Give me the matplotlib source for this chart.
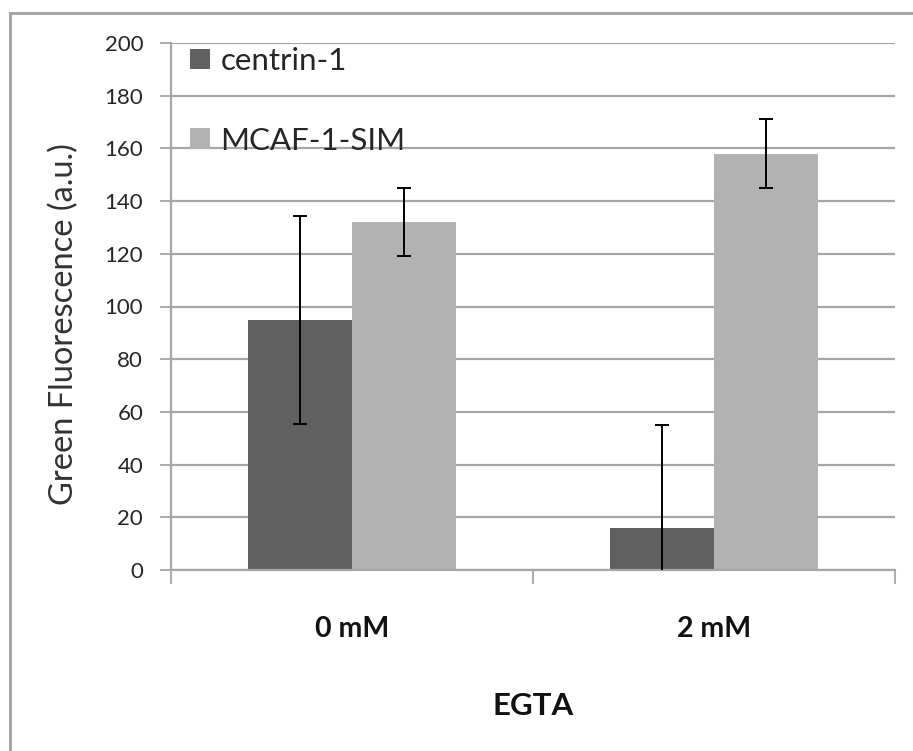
import matplotlib
matplotlib.use("Agg")
import matplotlib.pyplot as plt
from matplotlib.lines import Line2D
import numpy as np

categories = ["0 mM", "2 mM"]
series_names = ["centrin-1", "MCAF-1-SIM"]
centrin = [95, 16]
centrin_err = [39.5, 39]
mcaf = [132, 158]
mcaf_err = [13, 13]
yticks = [0, 20, 40, 60, 80, 100, 120, 140, 160, 180, 200]

plt.rcParams['font.family'] = ['Lato', 'DejaVu Sans']

W, H = 913, 751
fig = plt.figure(figsize=(W / 100, H / 100), dpi=100)
x0, x1, y0, y1 = 171, 895, 570, 43
ax = fig.add_axes([x0 / W, (H - y0) / H, (x1 - x0) / W, (y0 - y1) / H])

x = np.arange(len(categories))
bw = 0.288
dark = "#606060"
light = "#b2b2b2"
grid_c = "#a6a6a6"

ax.set_axisbelow(True)
ax.yaxis.grid(True, color=grid_c, lw=1.6)
ax.bar(x - bw / 2, centrin, bw, color=dark, label=series_names[0], zorder=2)
ax.bar(x + bw / 2, mcaf, bw, color=light, label=series_names[1], zorder=2)
ax.errorbar(x - bw / 2, centrin, yerr=centrin_err, fmt='none', ecolor='black',
            elinewidth=1.4, capsize=5, capthick=1.4, zorder=3)
ax.errorbar(x + bw / 2, mcaf, yerr=mcaf_err, fmt='none', ecolor='black',
            elinewidth=1.4, capsize=5, capthick=1.4, zorder=3)

ax.set_xlim(-0.5, 1.5)
ax.set_ylim(0, 200)
ax.set_yticks(yticks)
ax.set_yticklabels([str(v) for v in yticks], fontsize=16, color="#262626")
ax.tick_params(axis='y', length=8, width=1.3, color=grid_c, pad=12)

ax.set_xticks(x)
ax.set_xticklabels(categories, fontsize=20.5, fontweight='bold', color="#111111")
ax.tick_params(axis='x', which='major', length=0, pad=33)
ax.set_xticks([-0.5, 0.5, 1.5], minor=True)
ax.tick_params(axis='x', which='minor', length=10, width=1.3, color=grid_c)

for s in ['top', 'right']:
    ax.spines[s].set_visible(False)
for s in ['left', 'bottom']:
    ax.spines[s].set_color(grid_c)
    ax.spines[s].set_linewidth(1.6)

fig.text(64 / W, 1 - 324 / H, "Green Fluorescence (a.u.)", fontsize=23.5,
         color="#333333", rotation=90, ha='center', va='center')
ax.set_xlabel("EGTA", fontsize=22.5, fontweight='bold', color="#111111")
ax.xaxis.set_label_coords(0.5, (y0 - 706) / (y0 - y1))
ax.xaxis.label.set_va('center')

leg = ax.legend(loc='upper left',
                bbox_to_anchor=((190 - x0) / (x1 - x0), (y0 - 47) / (y0 - y1)),
                frameon=False, fontsize=22.5, labelspacing=1.65,
                handlelength=0.65, handleheight=0.65,
                handletextpad=0.32, borderaxespad=0, borderpad=0)
for t in leg.get_texts():
    t.set_color("#262626")

# outer frame (top and left only visible)
fig.add_artist(Line2D([10 / W, 1.0], [1 - 13 / H, 1 - 13 / H], transform=fig.transFigure,
                      color="#a0a0a0", lw=2))
fig.add_artist(Line2D([10 / W, 10 / W], [0.0, 1 - 13 / H], transform=fig.transFigure,
                      color="#a0a0a0", lw=2))

fig.savefig("out.png", dpi=100)
